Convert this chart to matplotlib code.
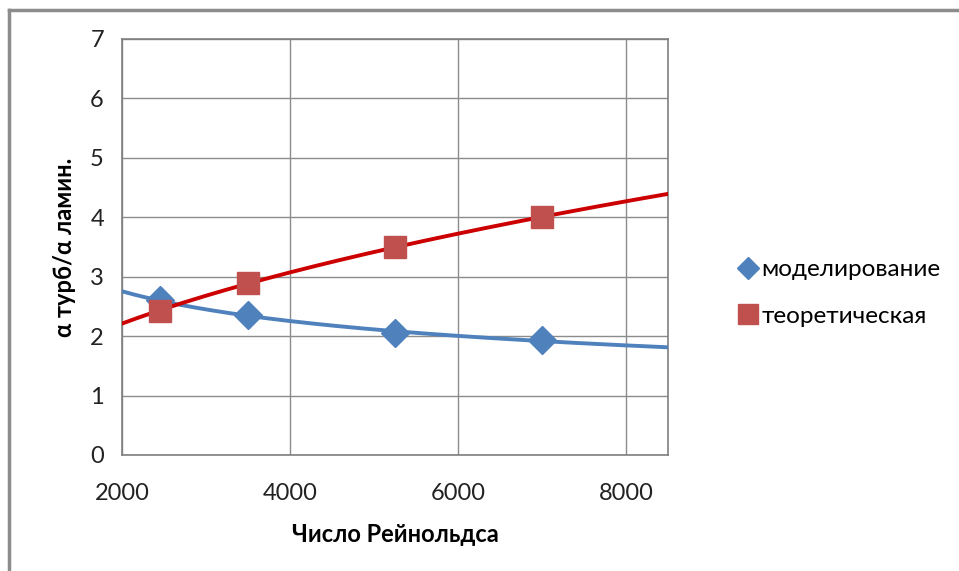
import numpy as np
import matplotlib.pyplot as plt
from matplotlib.lines import Line2D

plt.rcParams['font.family'] = ['Lato', 'DejaVu Sans']

# данные
re_model = [2450, 3500, 5250, 7000]
alpha_model = [2.60, 2.35, 2.06, 1.93]
re_theory = [2450, 3500, 5250, 7000]
alpha_theory = [2.43, 2.89, 3.50, 4.00]
x_ticks = [2000, 4000, 6000, 8000]
y_ticks = [0, 1, 2, 3, 4, 5, 6, 7]

blue = '#4F81BD'
red = '#C0504D'
grid_c = '#8C8C8C'

fig = plt.figure(figsize=(9.59, 5.71), dpi=100)
ax = fig.add_axes([0.1272, 0.2032, 0.5694, 0.7285])

# степенные линии тренда (как в Excel)
xx = np.linspace(2000, 8500, 200)
def power_trend(x, y):
    k, b = np.polyfit(np.log(x), np.log(y), 1)
    return np.exp(b) * xx ** k

ax.plot(xx, power_trend(re_model, alpha_model), color=blue, lw=2.8, zorder=3)
ax.plot(xx, power_trend(re_theory, alpha_theory), color='#CC0000', lw=2.8, zorder=3)

ax.plot(re_model, alpha_model, ls='none', marker='D', ms=14, color=blue, zorder=4)
ax.plot(re_theory, alpha_theory, ls='none', marker='s', ms=16, color=red, zorder=4)

ax.set_xlim(2000, 8500)
ax.set_ylim(0, 7)
ax.set_xticks(x_ticks)
ax.set_yticks(y_ticks)
ax.grid(True, color=grid_c, lw=1)
ax.set_axisbelow(True)
ax.tick_params(length=0, labelsize=17, colors='#222222', pad=13)
ax.tick_params(axis='x', pad=20)
for s in ax.spines.values():
    s.set_color('#7F7F7F')
    s.set_linewidth(1.2)

ax.set_xlabel('Число Рейнольдса', fontsize=17, fontweight='bold', labelpad=14)
ax.set_ylabel('α турб/α ламин.', fontsize=17, fontweight='bold', labelpad=10)

handles = [
    Line2D([], [], ls='none', marker='D', ms=11, color=blue),
    Line2D([], [], ls='none', marker='s', ms=14, color=red),
]
fig.legend(handles, ['моделирование', 'теоретическая'], loc='center left',
           bbox_to_anchor=(0.747, 0.487), frameon=False, fontsize=17.5,
           handletextpad=0.15, labelspacing=1.05, handlelength=0.8)

# рамка диаграммы
fig.add_artist(Line2D([9 / 959, 1], [1 - 10 / 571, 1 - 10 / 571], color='#8C8C8C', lw=2.5))
fig.add_artist(Line2D([9 / 959, 9 / 959], [0, 1 - 10 / 571], color='#8C8C8C', lw=2.5))

fig.savefig('out.png', dpi=100)
